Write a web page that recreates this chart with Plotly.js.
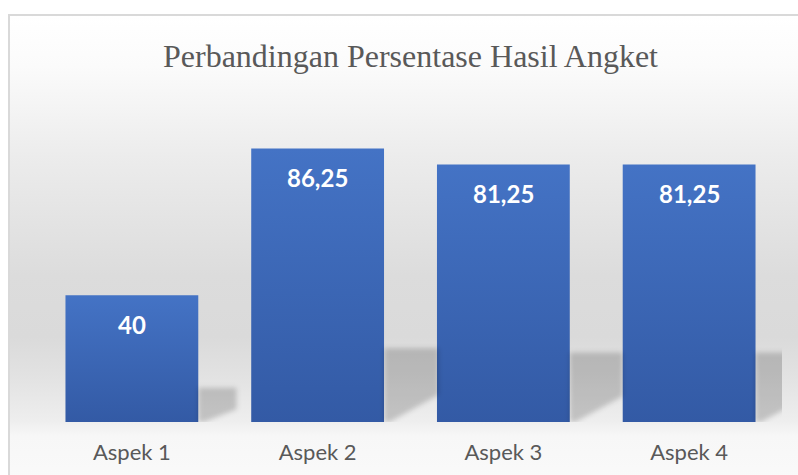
<!DOCTYPE html>
<html>
<head>
<meta charset="utf-8">
<script src="https://cdn.plot.ly/plotly-3.0.1.min.js"></script>
<style>
  html, body { margin:0; padding:0; width:798px; height:475px; overflow:hidden; background:#ffffff; }
  #frame {
    position:absolute; left:8px; top:14px; width:800px; height:470px;
    box-sizing:border-box; border:2px solid #d9d9d9;
    background: linear-gradient(to bottom,
      #ffffff 0px, #fbfbfb 50px, #ececec 140px, #dcdcdc 260px,
      #dadada 320px, #e2e2e2 360px, #eeeeee 405px, #f7f7f7 420px, #fafafa 470px);
  }
  #chart { position:absolute; left:0; top:0; width:798px; height:475px; }
</style>
</head>
<body>
<div id="frame"></div>
<div id="chart"></div>
<script>
const categories = ["Aspek 1", "Aspek 2", "Aspek 3", "Aspek 4"];
const values = [40, 86.25, 81.25, 81.25];
const titleText = "Perbandingan Persentase Hasil Angket";

const positions = categories.map((c, i) => i);
const barWidth = 0.715;

// perspective shadows derived from the bar values
const shadowTraces = values.map((v, i) => {
  const xr = positions[i] + barWidth / 2;
  const d = 0.13 + 0.0019 * v;
  return {
    type: 'scatter', mode: 'lines', fill: 'toself',
    x: [xr, xr, xr + d, xr + d, xr + 0.03, xr],
    y: [0, 0.27 * v, 0.27 * v, 0.1 * v, 0, 0],
    line: { width: 0, color: 'rgba(0,0,0,0)' },
    fillcolor: 'rgba(0,0,0,0.18)',
    hoverinfo: 'skip', showlegend: false
  };
});

const barTrace = {
  type: 'bar',
  x: positions,
  y: values,
  width: barWidth,
  marker: { color: '#4070BF', line: { width: 0 } },
  hoverinfo: 'skip',
  showlegend: false
};

const fmt = v => String(v).replace('.', ',');

const annotations = values.map((v, i) => ({
  x: positions[i], y: v, xref: 'x', yref: 'y',
  text: '<b>' + fmt(v) + '</b>',
  showarrow: false, yanchor: 'middle', yshift: -29,
  font: { family: 'Lato, "Open Sans", sans-serif', size: 24, color: '#ffffff' }
}));

const layout = {
  width: 798, height: 475,
  margin: { l: 39, r: 16, t: 105, b: 53, pad: 0 },
  paper_bgcolor: 'rgba(0,0,0,0)',
  plot_bgcolor: 'rgba(0,0,0,0)',
  title: {
    text: titleText,
    font: { family: '"Liberation Serif", "Times New Roman", serif', size: 32, color: '#595959' },
    x: 0.5, xref: 'paper', xanchor: 'center',
    y: 1 - 56 / 475, yref: 'container', yanchor: 'middle'
  },
  xaxis: {
    range: [-0.5, 3.5],
    tickvals: positions, ticktext: categories,
    showgrid: false, zeroline: false, showline: false, ticks: '',
    ticklabelstandoff: 15,
    tickfont: { family: 'Lato, "Open Sans", sans-serif', size: 22, color: '#595959' },
    fixedrange: true
  },
  yaxis: {
    range: [0, 100],
    showgrid: false, zeroline: false, showline: false, showticklabels: false, ticks: '',
    fixedrange: true
  },
  annotations: annotations,
  showlegend: false
};

Plotly.newPlot('chart', [...shadowTraces, barTrace], layout, { displayModeBar: false, staticPlot: true })
.then(gd => {
  const svg = gd.querySelector('svg.main-svg');
  const ns = 'http://www.w3.org/2000/svg';
  let defs = svg.querySelector('defs');
  if (!defs) { defs = document.createElementNS(ns, 'defs'); svg.insertBefore(defs, svg.firstChild); }
  const grad = document.createElementNS(ns, 'linearGradient');
  grad.setAttribute('id', 'barGrad');
  grad.setAttribute('x1', '0'); grad.setAttribute('y1', '0');
  grad.setAttribute('x2', '0'); grad.setAttribute('y2', '1');
  [['0', '#4473C5'], ['1', '#335AA5']].forEach(([o, c]) => {
    const s = document.createElementNS(ns, 'stop');
    s.setAttribute('offset', o); s.setAttribute('stop-color', c);
    grad.appendChild(s);
  });
  defs.appendChild(grad);
  const filt = document.createElementNS(ns, 'filter');
  filt.setAttribute('id', 'shBlur');
  filt.setAttribute('x', '-30%'); filt.setAttribute('y', '-30%');
  filt.setAttribute('width', '160%'); filt.setAttribute('height', '160%');
  const gb = document.createElementNS(ns, 'feGaussianBlur');
  gb.setAttribute('stdDeviation', '2.5');
  filt.appendChild(gb);
  defs.appendChild(filt);
  gd.querySelectorAll('.barlayer .point path').forEach(p => { p.style.fill = 'url(#barGrad)'; });
  gd.querySelectorAll('.scatterlayer .js-fill').forEach(p => { p.setAttribute('filter', 'url(#shBlur)'); });
});
</script>
</body>
</html>
